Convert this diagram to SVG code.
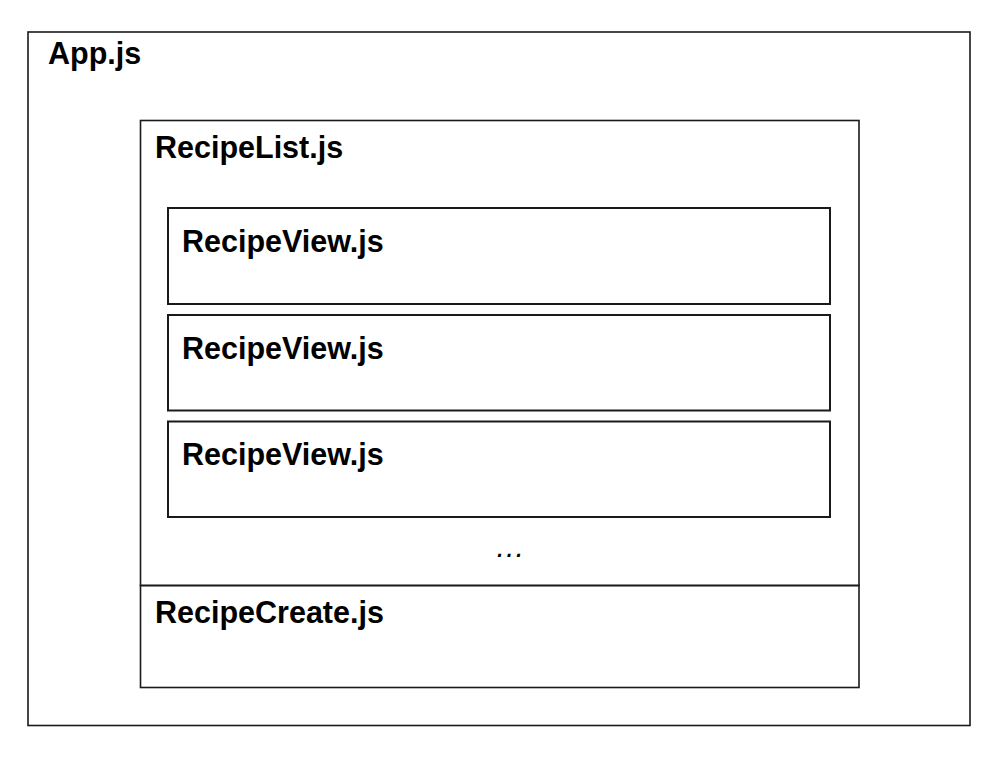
<svg xmlns="http://www.w3.org/2000/svg" width="1000" height="763" viewBox="0 0 1000 763">
<style>
.box{fill:none;stroke:#1a1a1a;stroke-width:1.6}
.inner{stroke-width:2}
.lbl{font-family:"Liberation Sans",Arial,sans-serif;font-weight:bold;font-size:30.5px;fill:#000}
.dots{font-family:"Liberation Sans",Arial,sans-serif;font-style:italic;font-size:30px;fill:#000;text-anchor:middle}
</style>
<rect width="1000" height="763" fill="#fff"/>
<g id="app">
<rect class="box" x="28" y="32" width="942" height="693.5"/>
<text class="lbl" x="48" y="64">App.js</text>
</g>
<g id="recipelist">
<rect class="box" x="140.5" y="120.5" width="718.5" height="465"/>
<text class="lbl" x="155" y="158">RecipeList.js</text>
</g>
<g id="recipeview1">
<rect class="box inner" x="168" y="208" width="662" height="96"/>
<text class="lbl" x="182" y="252">RecipeView.js</text>
</g>
<g id="recipeview2">
<rect class="box inner" x="168" y="315" width="662" height="95.5"/>
<text class="lbl" x="182" y="359">RecipeView.js</text>
</g>
<g id="recipeview3">
<rect class="box inner" x="168" y="421.5" width="662" height="95.5"/>
<text class="lbl" x="182" y="465">RecipeView.js</text>
</g>
<g id="ellipsis">
<text class="dots" x="510" y="557">…</text>
</g>
<g id="recipecreate">
<rect class="box" x="140.5" y="585.5" width="718.5" height="102"/>
<text class="lbl" x="155" y="623">RecipeCreate.js</text>
</g>
<g id="connectors"></g>
</svg>
